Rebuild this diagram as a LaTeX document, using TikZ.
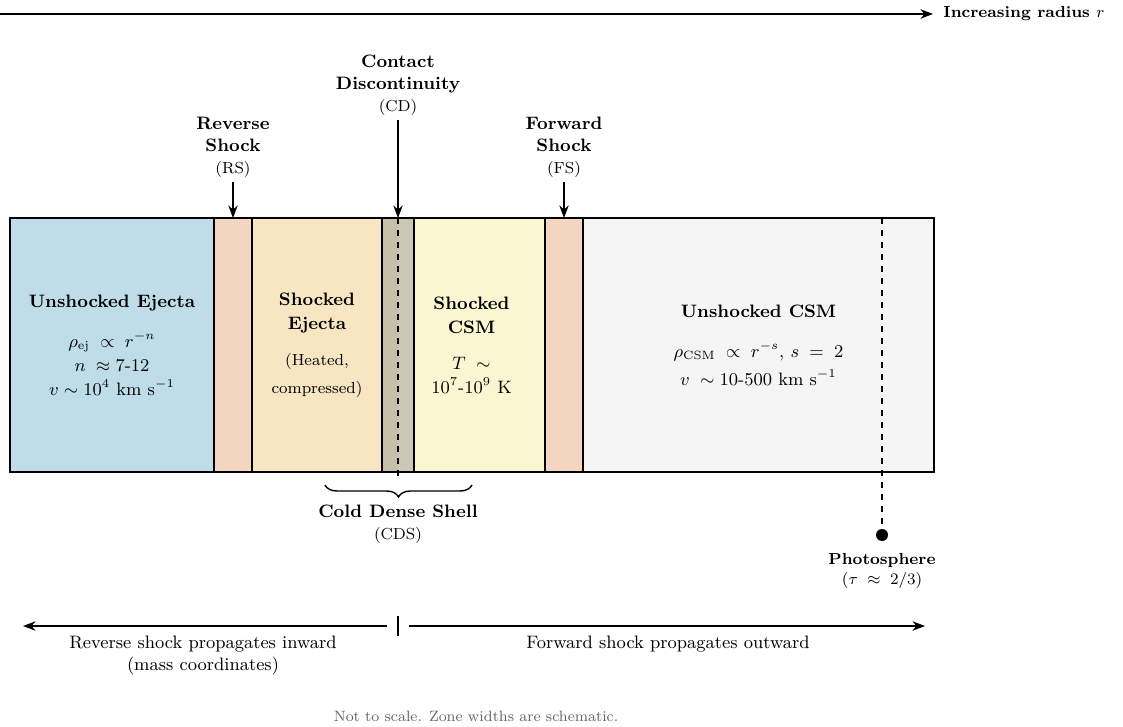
\documentclass[tikz,border=0pt]{standalone}
\usepackage{amsmath,amssymb}
\usepackage{xcolor}
\usetikzlibrary{arrows.meta,positioning,decorations.pathreplacing}

\definecolor{ejblue}{HTML}{BFDCE9}
\definecolor{shpeach}{HTML}{F3D5C0}
\definecolor{ejwheat}{HTML}{F8E6C3}
\definecolor{cdsdark}{HTML}{C6BFAA}
\definecolor{cdslight}{HTML}{CBC7B5}
\definecolor{csmyellow}{HTML}{FAF6D1}
\definecolor{csmgray}{HTML}{F5F5F5}
\definecolor{notegray}{HTML}{666666}

\begin{document}
\begin{tikzpicture}[x=0.5pt,y=-0.5pt,font=\small,>={Stealth[length=2.2mm]},
  zone/.style={draw,line width=0.75pt,minimum height=127pt,inner sep=0pt,outer sep=0pt},
  zonetxt/.style={align=center,font=\small,inner sep=0pt},
  shocklab/.style={align=center,inner sep=2pt},
  dot/.style={circle,fill,inner sep=0pt,minimum size=6pt}]
  \useasboundingbox (0,0) rectangle (1123,727);

  % radius axis
  \coordinate (rstart) at (0,14);
  \node[anchor=west,inner sep=0pt,font=\footnotesize\bfseries] (radius) at (943,14) {Increasing radius $r$};
  \draw[->,line width=0.8pt] (rstart) -- ([xshift=-5pt]radius.west);

  % zones
  \node[zone,fill=ejblue,minimum width=102pt,anchor=north west] (ue) at (10,218) {};
  \node[zone,fill=shpeach,minimum width=19pt,right=0pt of ue] (rs) {};
  \node[zone,fill=ejwheat,minimum width=65pt,right=0pt of rs] (se) {};
  \node[zone,fill=cdslight,minimum width=16pt,right=0pt of se,
    path picture={\fill[cdsdark] (path picture bounding box.north west) rectangle (path picture bounding box.south);}] (cds) {};
  \node[zone,fill=csmyellow,minimum width=65.5pt,right=0pt of cds] (sc) {};
  \node[zone,fill=shpeach,minimum width=19pt,right=0pt of sc] (fs) {};
  \node[zone,fill=csmgray,minimum width=175.5pt,right=0pt of fs] (uc) {};
  \draw[dashed,line width=0.9pt] (cds.north) -- ([yshift=-2pt]cds.south);

  \node[zonetxt] (uetxt) at (ue.center) {\textbf{Unshocked Ejecta}\\[9pt]
    $\rho_{\mathrm{ej}}\;\propto\;r^{-n}$\\[1pt]
    $n\;\approx\;$7-12\\[1pt]
    $v\sim10^4$ km s$^{-1}$};
  \node[zonetxt] (setxt) at (se.center) {\textbf{Shocked}\\[1pt]\textbf{Ejecta}\\[7pt]
    {\footnotesize(Heated,}\\[3pt]{\footnotesize compressed)}};
  \node[zonetxt] (sctxt) at ([xshift=-4pt]sc.center) {\textbf{Shocked}\\[1pt]\textbf{CSM}\\[7pt]
    $T\;\sim$\\[1pt]10$^7$-10$^9$ K};
  \node[zonetxt] (uctxt) at (uc.center) {\textbf{Unshocked CSM}\\[9pt]
    $\rho_{\mathrm{CSM}}\;\propto\;r^{-s}$, $s\;=\;2$\\[3pt]
    $v\;\sim\;$10-500 km s$^{-1}$};

  % shock fronts
  \node[shocklab,above=18pt of rs] (rslab) {\textbf{Reverse}\\\textbf{Shock}\\{\footnotesize(RS)}};
  \node[shocklab,above=49pt of cds] (cdlab) {\textbf{Contact}\\\textbf{Discontinuity}\\{\footnotesize(CD)}};
  \node[shocklab,above=18pt of fs] (fslab) {\textbf{Forward}\\\textbf{Shock}\\{\footnotesize(FS)}};
  \draw[->,line width=0.8pt] (rslab) -- (rs.north);
  \draw[->,line width=0.8pt] (cdlab) -- (cds.north);
  \draw[->,line width=0.8pt] (fslab) -- (fs.north);

  % cold dense shell
  \coordinate (brR) at (472,485);
  \coordinate (brL) at (325,485);
  \draw[decorate,decoration={brace,amplitude=6pt},line width=0.7pt] (brR) -- (brL);
  \node[align=center,inner sep=0pt] (cdslab) at (398,524) {\textbf{Cold Dense Shell}\\{\footnotesize(CDS)}};

  % photosphere
  \coordinate (phtop) at (882,218);
  \node[dot] (ph) at (882,535) {};
  \draw[dashed,line width=0.7pt] (phtop) -- (ph);
  \node[align=center,inner sep=0pt,below=6pt of ph] (phlab) {\footnotesize\textbf{Photosphere}\\[-1pt]{\footnotesize$(\tau\;\approx\;2/3)$}};

  % propagation directions
  \coordinate (tick) at (398,626);
  \coordinate (inL) at (23,626);
  \coordinate (outR) at (925,626);
  \draw[line width=0.8pt] ([yshift=5pt]tick) -- ([yshift=-5pt]tick);
  \draw[->,line width=0.8pt] ([xshift=-5.5pt]tick) -- (inL);
  \draw[->,line width=0.8pt] ([xshift=5.5pt]tick) -- (outR);
  \node[align=center,anchor=north,inner sep=0pt] (inlab) at (203,636) {Reverse shock propagates inward\\(mass coordinates)};
  \node[anchor=north,inner sep=0pt] (outlab) at (668,636) {Forward shock propagates outward};

  \node[text=notegray,font=\fontsize{7.5}{9}\selectfont] (note) at (476,716) {Not to scale. Zone widths are schematic.};
\end{tikzpicture}
\end{document}
